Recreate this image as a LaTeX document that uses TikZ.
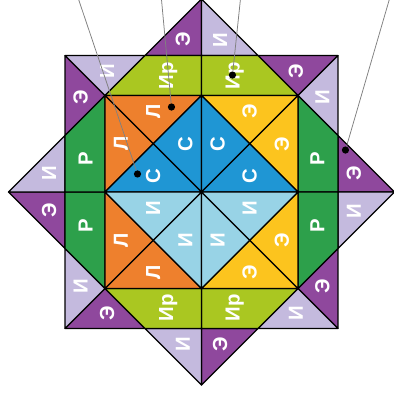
\documentclass[tikz,border=0pt]{standalone}
\usepackage{fontspec}
\setmainfont{Liberation Sans}
\usepackage{tikz}
\usetikzlibrary{calc}

\definecolor{purpleE}{RGB}{143,72,157}
\definecolor{lilacI}{RGB}{196,186,222}
\definecolor{limeIr}{RGB}{170,199,33}
\definecolor{greenR}{RGB}{45,160,75}
\definecolor{orangeL}{RGB}{238,128,45}
\definecolor{blueS}{RGB}{31,150,212}
\definecolor{skyI}{RGB}{152,211,230}
\definecolor{yellowE}{RGB}{252,196,30}

\begin{document}
\begin{tikzpicture}[x=2cm, y=2cm,
  piece/.style={draw=black, line width=0.7pt, line join=round},
  letter/.style={text=white, font=\bfseries\fontsize{12}{12}\selectfont, rotate=90, inner sep=0pt},
  callout/.style={draw=gray, line width=0.45pt},
  blackdot/.style={circle, fill=black, inner sep=0pt, minimum size=0.15cm}]
  \useasboundingbox (-2.088,-2.073) rectangle (1.995,1.99);

  % 星形的八个尖角
  \foreach \a [count=\i] in {90,45,0,-45,-90,-135,180,135} {
    \filldraw[piece, fill=purpleE] (\a:2) -- (\a+22.5:1.5307) -- (\a:1.4142) -- cycle;
    \filldraw[piece, fill=lilacI] (\a:2) -- (\a-22.5:1.5307) -- (\a:1.4142) -- cycle;
    \node[letter] (e\i) at (\a+7:1.59) {Э};
    \node[letter] (i\i) at (\a-7:1.59) {И};
  }

  % 内外正方形之间的条带
  \foreach \a/\c/\t [count=\i] in {90/limeIr/Ир, 0/greenR/Р, -90/limeIr/Ир, 180/greenR/Р} {
    \filldraw[piece, fill=\c] (\a+45:1.4142) -- (\a:1) -- (\a:1.4142) -- (\a+22.5:1.5307) -- cycle;
    \filldraw[piece, fill=\c] (\a-45:1.4142) -- (\a:1) -- (\a:1.4142) -- (\a-22.5:1.5307) -- cycle;
    \node[letter] (bl\i) at (\a+16:1.25) {\t};
    \node[letter] (br\i) at (\a-16:1.25) {\t};
  }

  % 内正方形的四个角
  \foreach \sx/\sy/\co/\lo/\ci/\li [count=\i] in {-1/1/orangeL/Л/blueS/С, 1/1/yellowE/Э/blueS/С,
      -1/-1/orangeL/Л/skyI/И, 1/-1/yellowE/Э/skyI/И} {
    \filldraw[piece, fill=\co] (\sx,\sy) -- (0,\sy) -- (\sx/2,\sy/2) -- cycle;
    \filldraw[piece, fill=\co] (\sx,\sy) -- (\sx,0) -- (\sx/2,\sy/2) -- cycle;
    \filldraw[piece, fill=\ci] (0,0) -- (0,\sy) -- (\sx/2,\sy/2) -- cycle;
    \filldraw[piece, fill=\ci] (0,0) -- (\sx,0) -- (\sx/2,\sy/2) -- cycle;
    \node[letter] (ov\i) at (\sx/2, 5*\sy/6) {\lo};
    \node[letter] (oh\i) at (5*\sx/6, \sy/2) {\lo};
    \node[letter] (iv\i) at (\sx/6, \sy/2) {\li};
    \node[letter] (ih\i) at (\sx/2, \sy/6) {\li};
  }

  % 引线和黑点
  \foreach \tx/\px/\py [count=\i] in {-1.275/-0.663/0.187, -0.415/-0.311/0.881,
      0.404/0.321/1.212, 1.948/1.492/0.435} {
    \coordinate (t\i) at (\tx, 2.0);
    \node[blackdot] (p\i) at (\px, \py) {};
    \draw[callout] (t\i) -- (p\i);
  }
\end{tikzpicture}
\end{document}
